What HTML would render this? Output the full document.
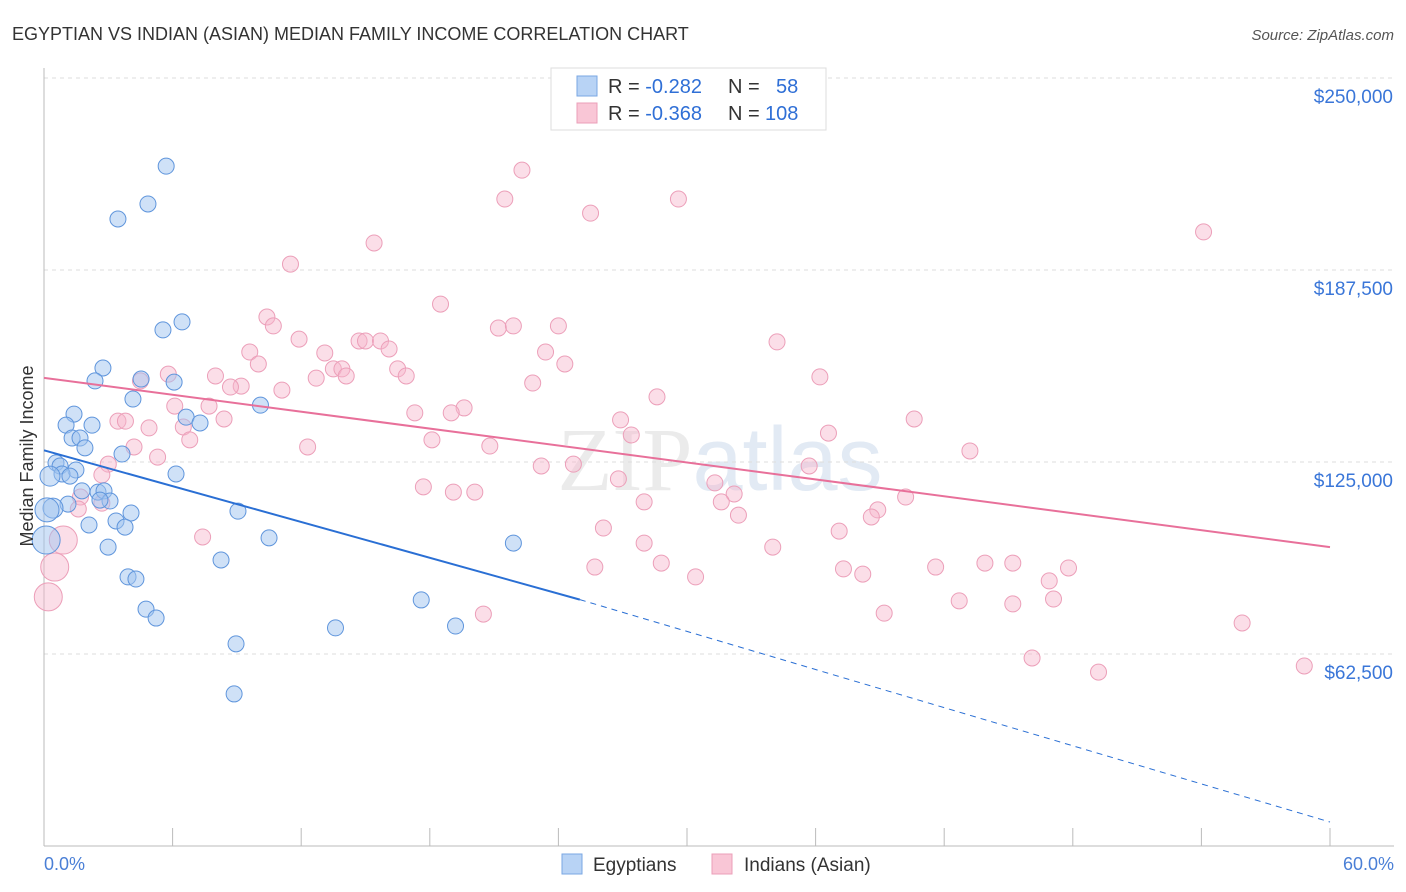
<!DOCTYPE html>
<html><head><meta charset="utf-8"><style>
body{margin:0;background:#fff;font-family:"Liberation Sans",sans-serif;}
svg{display:block}
</style></head><body>
<svg id="chart" width="1406" height="892" xmlns="http://www.w3.org/2000/svg">
<text x="12" y="40" font-size="18" fill="#333">EGYPTIAN VS INDIAN (ASIAN) MEDIAN FAMILY INCOME CORRELATION CHART</text>
<text x="1394" y="40" font-size="15" fill="#555" text-anchor="end" font-style="italic">Source: ZipAtlas.com</text>
<text x="720" y="490" font-size="90" fill="#ebebeb" text-anchor="middle" font-family="Liberation Serif">ZIP<tspan fill="#e2eaf4" font-family="Liberation Sans">atlas</tspan></text>
<g id="grid"></g><g id="axes"></g><g id="pts"></g><g id="lines"></g>
<text transform="translate(33,456) rotate(-90)" font-size="18" fill="#333" text-anchor="middle">Median Family Income</text>
<text x="44" y="870" font-size="18" fill="#4a7fd6">0.0%</text>
<text x="1394" y="870" font-size="18" fill="#4a7fd6" text-anchor="end">60.0%</text>
<g>
<rect x="551" y="68" width="275" height="62" fill="#fff" stroke="#ddd"/>
<rect x="577" y="76" width="20" height="20" fill="#b8d3f5" stroke="#7aa7e3"/>
<rect x="577" y="103" width="20" height="20" fill="#f9c6d6" stroke="#eb9fb8"/>
<text x="608" y="93" font-size="20" fill="#333">R = <tspan fill="#2f6fd6">-0.282</tspan><tspan x="728">N =</tspan><tspan x="776" fill="#2f6fd6">58</tspan></text>
<text x="608" y="120" font-size="20" fill="#333">R = <tspan fill="#2f6fd6">-0.368</tspan><tspan x="728">N =</tspan><tspan x="765" fill="#2f6fd6">108</tspan></text>
</g>
<g>
<rect x="562" y="854" width="20" height="20" fill="#b8d3f5" stroke="#7aa7e3"/>
<text x="593" y="871" font-size="19" fill="#333">Egyptians</text>
<rect x="712" y="854" width="20" height="20" fill="#f9c6d6" stroke="#eb9fb8"/>
<text x="744" y="871" font-size="19" fill="#333">Indians (Asian)</text>
</g>
</svg>
<script>
const yTicks=[62500,125000,187500,250000];
const yTickLabels=["$62,500","$125,000","$187,500","$250,000"];
const xTicks=[0,6,12,18,24,30,36,42,48,54,60];
const blueX=[5.7,4.85,3.45,6.44,5.55,2.75,2.38,4.53,6.07,4.15,10.1,1.4,6.63,7.28,1.03,2.24,1.31,1.68,1.91,3.64,0.56,0.75,1.49,0.84,1.21,0.28,6.16,1.77,2.52,2.8,1.12,3.08,2.61,0.42,0.14,4.06,9.05,3.36,3.78,2.1,2.99,10.5,21.9,8.26,3.92,4.29,17.6,4.76,5.23,13.6,19.2,8.96,8.87,0.1];
const blueY=[221.3,209,204.1,170.6,168,155.6,151.4,152,151,145.5,143.5,140.6,139.6,137.7,137,137,132.8,132.8,129.6,127.6,124.7,123.7,122.4,121.1,120.4,120.4,121.1,115.6,115.2,115.6,111.3,112.3,112.6,110,109.4,108.4,109,105.8,103.8,104.5,97.3,100.3,98.6,93.1,87.6,86.9,80.1,77.1,74.2,71,71.6,65.8,49.5,99.6];
const blueR=[8,8,8,8,8,8,8,8,8,8,8,8,8,8,8,8,8,8,8,8,8,8,8,8,8,10,8,8,8,8,8,8,8,10,12,8,8,8,8,8,8,8,8,8,8,8,8,8,8,8,8,8,8,14];
const pinkX=[22.3,29.6,21.5,25.5,54.1,15.4,11.5,18.5,10.4,10.7,21.2,21.9,24.0,11.9,14.7,15.0,15.7,34.2,16.1,9.6,13.1,23.4,10.0,24.3,13.5,13.9,16.5,5.8,8.0,14.1,16.9,12.7,36.2,4.5,9.2,8.7,22.8,11.1,28.6,6.1,7.7,19.6,17.3,19.0,8.4,3.45,3.8,26.9,40.6,4.9,6.5,27.4,36.6,6.8,18.1,12.3,20.8,4.2,43.2,5.3,3.0,23.2,24.7,35.7,2.7,26.8,31.3,17.7,19.1,20.1,32.2,40.2,1.7,31.6,28.0,2.7,1.6,38.9,32.4,38.6,26.1,37.1,7.4,28.0,34.0,45.2,43.9,28.8,25.7,41.6,47.8,37.3,38.2,30.4,46.9,47.1,42.7,45.2,39.2,20.5,55.9,46.1,58.8,49.2,0.9,0.5,0.2];
const pinkY=[220,210.6,210.6,206,199.9,196.3,189.4,176.4,172.2,169.3,168.6,169.3,169.3,165,164.4,164.4,164.4,164.1,161.8,160.8,160.5,160.8,156.9,156.9,155.3,155.3,155.3,153.6,153,153,153,152.3,152.7,151.4,149.7,149.4,150.7,148.4,146.2,143.2,143.2,142.6,141,141,139,138.3,138.3,138.7,139,136.1,136.4,133.8,134.4,132.2,132.2,129.9,130.2,129.9,128.6,126.6,124.3,123.7,124.3,123.7,120.8,119.5,118.2,116.9,115.2,115.2,114.6,113.6,113.6,112,112,111.6,109.7,109.4,107.7,107.1,103.5,102.5,100.6,98.6,97.3,92.1,92.1,92.1,90.8,90.8,90.5,90.2,88.5,87.6,86.3,80.4,79.8,78.8,75.8,75.5,72.6,61.2,58.6,56.6,99.6,90.8,81.1];
const pinkR=pinkX.map((_,i)=>i>=pinkX.length-3?14:8);
const blueTrend=[[0,128.8],[25,80.2]], blueDash=[[25,80.2],[60,7.8]];
const pinkTrend=[[0,152.4],[60,97.3]];
const X=p=>44+p*(1286/60), Y=v=>846-v/62500*192;
const Yk=k=>Y(k*1000);
const NS="http://www.w3.org/2000/svg";
function mk(t,a,p){const e=document.createElementNS(NS,t);for(const k in a)e.setAttribute(k,a[k]);p.appendChild(e);return e;}
const grid=document.getElementById('grid'),axes=document.getElementById('axes'),pts=document.getElementById('pts'),lines=document.getElementById('lines');
yTicks.forEach((v,i)=>{
 const l=mk('line',{x1:44,x2:1394,y1:Y(v),y2:Y(v),stroke:'#ddd','stroke-dasharray':'4,4'},grid);
 
 
 const t=mk('text',{x:1393,y:Y(v)+25,'font-size':19,fill:'#3a76d8','text-anchor':'end'},grid);
 t.textContent=yTickLabels[i];
 
 
});
const ax=mk('line',{x1:44,x2:1394,y1:846,y2:846,stroke:'#bbb'},axes);


const ay=mk('line',{x1:44,x2:44,y1:68,y2:846,stroke:'#bbb'},axes);


xTicks.forEach(p=>{
 const t=mk('line',{x1:X(p),x2:X(p),y1:828,y2:846,stroke:'#bbb'},axes);
 
 
});
pinkX.forEach((p,i)=>{
 const c=mk('circle',{cx:X(p),cy:Yk(pinkY[i]),r:pinkR[i],fill:'rgba(246,182,203,0.45)',stroke:'#ec9fb9','stroke-width':1},pts);
 
 
});
blueX.forEach((p,i)=>{
 const c=mk('circle',{cx:X(p),cy:Yk(blueY[i]),r:blueR[i],fill:'rgba(160,196,240,0.5)',stroke:'#5f95dc','stroke-width':1},pts);
 
 
});
const pl=mk('line',{x1:X(pinkTrend[0][0]),y1:Yk(pinkTrend[0][1]),x2:X(pinkTrend[1][0]),y2:Yk(pinkTrend[1][1]),stroke:'#e8709a','stroke-width':2},lines);


const bl=mk('line',{x1:X(blueTrend[0][0]),y1:Yk(blueTrend[0][1]),x2:X(blueTrend[1][0]),y2:Yk(blueTrend[1][1]),stroke:'#2a6fd4','stroke-width':2},lines);


const bd=mk('line',{x1:X(blueDash[0][0]),y1:Yk(blueDash[0][1]),x2:X(blueDash[1][0]),y2:Yk(blueDash[1][1]),stroke:'#2a6fd4','stroke-width':1,'stroke-dasharray':'6,5'},lines);


</script>
</body></html>
